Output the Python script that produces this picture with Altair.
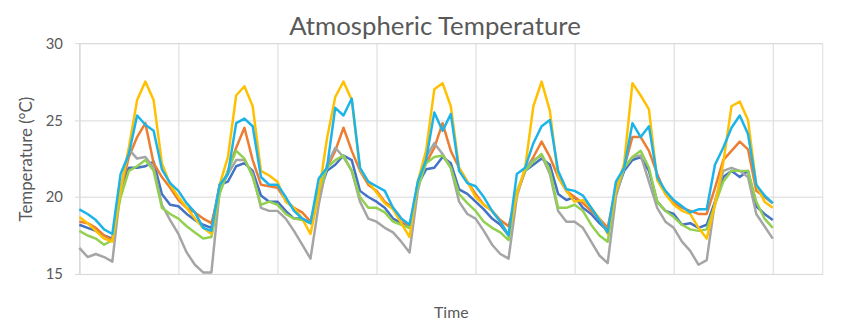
import altair as alt
import pandas as pd

# hours since start (2-hour sampling, 7 days)
hours = list(range(0, 170, 2))
day_ticks = [0, 24, 48, 72, 96, 120, 144, 168]
y_ticks = [15, 20, 25, 30]

yellow = [
    18.7, 18.3, 17.8, 17.3, 17.1, 20.5, 23.2, 26.3, 27.5, 26.3, 22.2, 20.8,
    20.0, 19.3, 18.6, 18.0, 17.6, 20.8, 22.6, 26.6, 27.2, 25.9, 21.7, 21.4,
    21.0, 19.7, 19.3, 18.6, 17.6, 20.2, 23.8, 26.5, 27.5, 26.3, 21.8, 21.0,
    20.3, 19.6, 19.2, 18.3, 17.4, 21.0, 23.0, 27.0, 27.4, 25.9, 21.9, 21.0,
    20.0, 19.5, 19.1, 18.4, 17.5, 20.2, 21.9, 25.9, 27.5, 25.6, 21.3, 20.4,
    19.7, 19.8, 19.3, 18.6, 17.6, 20.4, 22.2, 27.4, 26.6, 25.7, 21.1, 20.2,
    19.5, 19.1, 18.9, 18.0, 17.3, 19.5, 22.2, 25.9, 26.2, 25.0, 20.8, 19.7,
    19.3]
cyan = [
    19.2, 18.9, 18.5, 17.9, 17.6, 21.5, 22.8, 25.3, 24.7, 24.3, 21.8, 20.9,
    20.4, 19.6, 19.0, 18.0, 17.8, 20.8, 21.5, 24.8, 25.1, 24.6, 21.3, 20.8,
    20.8, 20.0, 19.1, 18.6, 18.3, 21.2, 21.9, 25.8, 25.3, 26.4, 21.9, 21.0,
    20.7, 20.4, 19.3, 18.6, 18.2, 21.0, 22.4, 25.5, 24.3, 25.4, 21.7, 20.9,
    20.7, 20.0, 19.1, 18.4, 17.5, 21.5, 21.9, 23.5, 24.6, 25.0, 21.7, 20.5,
    20.4, 20.1, 19.3, 18.5, 17.7, 21.0, 21.9, 24.8, 23.9, 24.6, 21.3, 20.4,
    19.8, 19.4, 19.0, 19.2, 19.2, 22.1, 23.2, 24.5, 25.3, 24.1, 20.8, 20.1,
    19.6]
orange = [
    18.4, 18.3, 18.0, 17.5, 17.2, 20.4, 22.6, 23.9, 24.8, 22.2, 21.3, 20.6,
    19.8, 19.3, 19.0, 18.6, 18.3, 20.4, 21.7, 23.2, 24.5, 22.4, 20.8, 20.7,
    20.6, 19.8, 19.3, 19.0, 18.4, 20.4, 21.9, 23.0, 24.5, 23.0, 21.7, 20.8,
    20.4, 19.7, 19.3, 18.6, 18.0, 20.8, 22.2, 23.2, 24.8, 23.0, 21.9, 21.0,
    20.2, 19.5, 19.1, 18.5, 18.1, 20.2, 21.7, 22.6, 23.6, 22.6, 21.3, 20.4,
    20.0, 19.6, 19.1, 18.6, 18.0, 20.6, 21.9, 23.9, 23.9, 23.0, 21.5, 20.2,
    19.6, 19.3, 19.1, 18.9, 18.9, 20.6, 22.4, 23.0, 23.6, 23.1, 20.4, 20.0,
    19.6]
blue = [
    18.2, 18.0, 17.8, 17.5, 17.3, 20.6, 21.9, 21.9, 22.0, 22.3, 20.2, 19.5,
    19.4, 18.9, 18.5, 18.2, 18.0, 20.8, 21.0, 22.0, 22.2, 21.7, 20.1, 19.7,
    19.7, 19.1, 18.6, 18.6, 18.3, 20.2, 21.7, 22.1, 22.7, 22.4, 20.4, 20.0,
    19.7, 19.3, 18.6, 18.3, 18.0, 20.8, 21.8, 21.9, 22.6, 22.2, 20.5, 20.2,
    19.7, 19.2, 18.6, 18.2, 17.5, 20.2, 21.7, 22.1, 22.5, 22.1, 20.2, 19.8,
    20.0, 19.3, 18.9, 18.3, 17.8, 20.2, 21.7, 22.4, 22.6, 21.7, 19.7, 19.1,
    18.9, 18.2, 18.3, 18.0, 18.2, 19.7, 21.3, 21.7, 21.3, 21.7, 19.4, 18.9,
    18.5]
green = [
    17.8, 17.5, 17.3, 16.9, 17.2, 20.0, 21.7, 22.0, 22.4, 21.7, 19.3, 18.9,
    18.6, 18.1, 17.7, 17.3, 17.4, 20.2, 21.7, 23.0, 22.5, 21.3, 19.5, 19.7,
    19.5, 18.9, 18.6, 18.5, 18.3, 20.4, 21.9, 22.4, 22.7, 21.7, 20.0, 19.3,
    19.3, 19.0, 18.4, 18.2, 18.0, 20.6, 22.2, 22.6, 22.7, 21.9, 20.2, 19.6,
    19.1, 18.4, 18.0, 17.7, 17.2, 20.4, 21.7, 22.3, 22.8, 21.7, 19.3, 19.3,
    19.5, 19.1, 18.2, 17.5, 17.1, 20.4, 21.9, 22.6, 23.0, 21.9, 19.7, 19.1,
    18.7, 18.2, 17.9, 17.8, 17.9, 19.5, 21.0, 21.7, 21.7, 21.7, 19.7, 18.6,
    18.0]
gray = [
    16.7, 16.1, 16.3, 16.1, 15.8, 20.5, 23.1, 22.5, 22.6, 21.9, 19.5, 18.5,
    17.6, 16.4, 15.6, 15.1, 15.1, 20.4, 21.5, 22.4, 22.4, 21.5, 19.3, 19.1,
    19.1, 18.6, 17.8, 16.9, 16.0, 19.5, 22.1, 23.2, 22.6, 21.7, 19.7, 18.6,
    18.4, 18.0, 17.7, 17.1, 16.4, 20.4, 22.6, 23.5, 22.8, 21.9, 19.7, 18.9,
    18.6, 17.8, 16.9, 16.3, 16.0, 20.0, 21.9, 22.4, 22.7, 21.5, 19.1, 18.4,
    18.4, 18.0, 17.1, 16.2, 15.7, 20.0, 21.9, 22.6, 22.7, 21.0, 19.3, 18.4,
    18.0, 17.1, 16.5, 15.6, 15.9, 19.7, 21.7, 21.9, 21.7, 21.3, 18.9, 18.1,
    17.3]

# drawing order: first drawn is at the bottom
series = [
    ("Blue", blue, "#4472C4"),
    ("Orange", orange, "#ED7D31"),
    ("Gray", gray, "#A5A5A5"),
    ("Green", green, "#92D050"),
    ("Yellow", yellow, "#FFC000"),
    ("Cyan", cyan, "#1CB4E8"),
]

rows = []
for name, vals, _ in series:
    assert len(vals) == len(hours), (name, len(vals))
    for h, v in zip(hours, vals):
        rows.append({"series": name, "hour": h, "temp": v})
df = pd.DataFrame(rows)

FONT = "Lato"
TXT = "#595959"
GRID = "#d9d9d9"

x_enc = alt.X(
    "hour:Q",
    scale=alt.Scale(domain=[0, 180], nice=False, zero=False),
    axis=alt.Axis(
        values=day_ticks, labels=False, ticks=False, grid=True,
        gridColor=GRID, domainColor=GRID, title="Time",
        titleFontSize=16, titleFontWeight="normal", titleColor=TXT,
        titleFont=FONT, titlePadding=31,
    ),
)
y_enc = alt.Y(
    "temp:Q",
    scale=alt.Scale(domain=[15, 30], nice=False, zero=False),
    axis=alt.Axis(
        values=y_ticks, grid=True, gridColor=GRID, domainColor=GRID,
        tickColor=GRID, tickSize=5, labelPadding=12, labelFontSize=15,
        labelColor=TXT, labelFont=FONT, title="Temperature (°C)",
        titleFontSize=17, titleFontWeight="normal", titleColor=TXT,
        titleFont=FONT, titlePadding=10,
    ),
)

layers = []
for name, _, col in series:
    layers.append(
        alt.Chart(df)
        .transform_filter(alt.datum.series == name)
        .mark_line(color=col, strokeWidth=2.5, strokeJoin="round")
        .encode(x=x_enc, y=y_enc)
    )

chart = (
    alt.layer(*layers)
    .properties(
        width=750,
        height=233,
        title=alt.TitleParams(
            "Atmospheric Temperature", fontSize=26, font=FONT,
            fontWeight="normal", color=TXT, anchor="middle", dx=-16, dy=6,
            offset=2,
        ),
        autosize=alt.AutoSizeParams(type="none"),
        padding={"left": 72, "top": 34, "right": 32, "bottom": 47},
    )
    .configure_view(stroke=None)
    .configure(background="white")
)

chart.save("out.html", embed_options={"renderer": "svg", "actions": False})
